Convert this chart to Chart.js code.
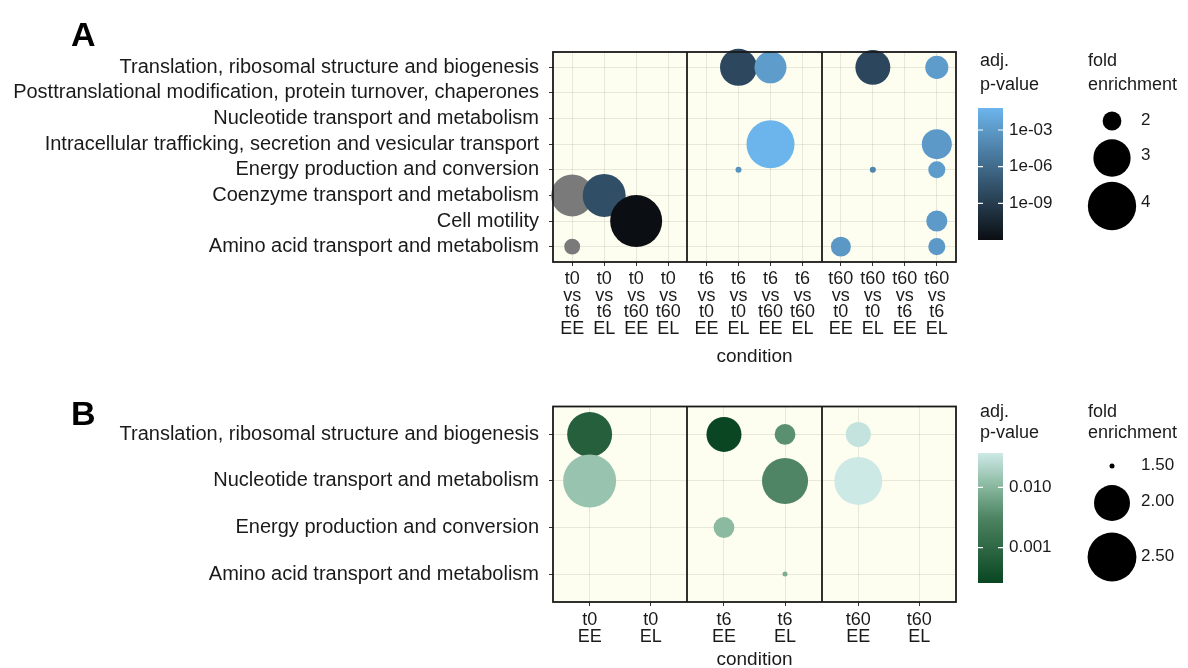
<!DOCTYPE html>
<html>
<head>
<meta charset="utf-8">
<script src="https://cdn.jsdelivr.net/npm/chart.js@4.4.1/dist/chart.umd.min.js"></script>
<style>
  body { margin: 0; background: #fff; }
  #wrap { position: relative; width: 1188px; height: 668px; }
  canvas { position: absolute; left: 0; }
  #chartA { top: 0; }
  #chartB { top: 380px; }
</style>
</head>
<body>
<div id="wrap">
  <canvas id="chartA" width="1188" height="380"></canvas>
  <canvas id="chartB" width="1188" height="288"></canvas>
</div>
<script>
// ---- Panel A : COG categories x comparisons ----
const rowsA = [
  'Translation, ribosomal structure and biogenesis',
  'Posttranslational modification, protein turnover, chaperones',
  'Nucleotide transport and metabolism',
  'Intracellular trafficking, secretion and vesicular transport',
  'Energy production and conversion',
  'Coenzyme transport and metabolism',
  'Cell motility',
  'Amino acid transport and metabolism'
];
const condA = [
  't0 vs t6 EE', 't0 vs t6 EL', 't0 vs t60 EE', 't0 vs t60 EL',
  't6 vs t0 EE', 't6 vs t0 EL', 't6 vs t60 EE', 't6 vs t60 EL',
  't60 vs t0 EE', 't60 vs t0 EL', 't60 vs t6 EE', 't60 vs t6 EL'
];
const rowIdxA = [5, 5, 6, 7, 0, 0, 3, 4, 0, 0, 3, 4, 4, 6, 7, 7];
const colIdxA = [0, 1, 2, 0, 5, 6, 6, 5, 9, 11, 11, 9, 11, 11, 8, 11];
const foldA   = [3.39, 3.48, 4.4, 1.92, 2.98, 2.63, 3.97, 1.8, 2.83, 2.16, 2.51, 1.8, 1.95, 2.08, 2.04, 1.95];
const pvalA   = [null, 1.3e-8, 1e-12, null, 6e-9, 1.6e-3, 0.063, 4e-4, 5e-9, 1.6e-3, 1e-3, 4e-5, 1.6e-3, 1.2e-3, 8e-4, 1e-3];
const sizeBreaksA = [2, 3, 4];
const sizeLabelsA = ['2', '3', '4'];
const pBreaksA = [1e-3, 1e-6, 1e-9];
const pLabelsA = ['1e-03', '1e-06', '1e-09'];

// ---- Panel B ----
const rowsB = [
  'Translation, ribosomal structure and biogenesis',
  'Nucleotide transport and metabolism',
  'Energy production and conversion',
  'Amino acid transport and metabolism'
];
const condB = ['t0 EE', 't0 EL', 't6 EE', 't6 EL', 't60 EE', 't60 EL'];
const rowIdxB = [0, 1, 0, 0, 1, 2, 3, 0, 1];
const colIdxB = [0, 0, 2, 3, 3, 2, 3, 4, 4];
const foldB   = [2.33, 2.7, 1.97, 1.63, 2.38, 1.63, 1.5, 1.71, 2.46];
const pvalB   = [7e-4, 0.014, 2.6e-4, 0.004, 0.0032, 0.011, 0.008, 0.032, 0.037];
const sizeBreaksB = [1.5, 2.0, 2.5];
const sizeLabelsB = ['1.50', '2.00', '2.50'];
const pBreaksB = [0.01, 0.001];
const pLabelsB = ['0.010', '0.001'];

const FONT = '"Liberation Sans", Arial, sans-serif';
const NA_COLOR = '#7a7a7a';

function hexToRgb(h) {
  return [parseInt(h.slice(1, 3), 16), parseInt(h.slice(3, 5), 16), parseInt(h.slice(5, 7), 16)];
}

// colour from p-value (log scale) through a list of stops
function pColor(p, cfg) {
  if (p == null) return NA_COLOR;
  let t = (Math.log10(p) - Math.log10(cfg.pmin)) / (Math.log10(cfg.pmax) - Math.log10(cfg.pmin));
  t = Math.max(0, Math.min(1, t));
  const st = cfg.stops;
  let i = 0;
  while (i < st.length - 2 && t > st[i + 1][0]) i++;
  const a = st[i], b = st[i + 1];
  const f = (t - a[0]) / (b[0] - a[0]);
  const ca = hexToRgb(a[1]), cb = hexToRgb(b[1]);
  const c = ca.map((v, k) => Math.round(v + (cb[k] - v) * f));
  return `rgb(${c[0]},${c[1]},${c[2]})`;
}

// radius from fold enrichment (area style like ggplot scale_size)
function sizeR(v, cfg) {
  const t = Math.max(0, (v - cfg.vmin) / (cfg.vmax - cfg.vmin));
  return cfg.rmin + (cfg.rmax - cfg.rmin) * Math.sqrt(t);
}

const cfgA = {
  canvas: 'chartA', height: 380, letter: 'A', letterY: 37,
  rows: rowsA, cond: condA, rowIdx: rowIdxA, colIdx: colIdxA, fold: foldA, pval: pvalA,
  perFacet: 4, nFacet: 3,
  top: 52, bottom: 262, titleY: 357, tickLine: 16.5, tickPad: 5,
  vmin: 1.8, vmax: 4.4, rmin: 3, rmax: 26,
  pmin: 1e-12, pmax: 0.063,
  stops: [[0, '#0b0e12'], [1, '#6cb5ec']],
  sizeBreaks: sizeBreaksA, sizeLabels: sizeLabelsA, pBreaks: pBreaksA, pLabels: pLabelsA,
  leg: { t1: 61, t2: 85, barTop: 108, barBot: 240, circY: [121, 158, 206], labY: [120, 155, 202] }
};
const cfgB = {
  canvas: 'chartB', height: 288, letter: 'B', letterY: 416 - 380,
  rows: rowsB, cond: condB, rowIdx: rowIdxB, colIdx: colIdxB, fold: foldB, pval: pvalB,
  perFacet: 2, nFacet: 3,
  top: 392 - 380, bottom: 602 - 380, titleY: 660 - 380, tickLine: 17, tickPad: 6,
  vmin: 1.5, vmax: 2.7, rmin: 2.5, rmax: 26.5,
  pmin: 2.6e-4, pmax: 0.037,
  stops: [[0, '#0a4622'], [0.5, '#4d8462'], [0.75, '#8ab9a0'], [1, '#cde9e6']],
  sizeBreaks: sizeBreaksB, sizeLabels: sizeLabelsB, pBreaks: pBreaksB, pLabels: pLabelsB,
  leg: { t1: 412 - 380, t2: 433 - 380, barTop: 453 - 380, barBot: 583 - 380, circY: [466 - 380, 503 - 380, 557 - 380], labY: [465 - 380, 501 - 380, 556 - 380] }
};

function colX(c, cfg) {
  const f = Math.floor(c / cfg.perFacet), j = c % cfg.perFacet;
  return f * (cfg.perFacet - 1 + 1.2) + j;
}

const panelPlugin = {
  id: 'panel',
  beforeDraw(chart) {
    const { ctx, chartArea: a } = chart;
    ctx.save();
    ctx.fillStyle = '#fefef0';
    ctx.fillRect(a.left, a.top, a.right - a.left, a.bottom - a.top);
    ctx.restore();
  },
  afterDraw(chart) {
    const cfg = chart.options.plugins.panel.cfg;
    const { ctx, chartArea: a, scales } = chart;
    ctx.save();
    // facet separators and border
    ctx.strokeStyle = '#1a1a1a';
    ctx.lineWidth = 1.8;
    const w = cfg.perFacet - 1 + 1.2;
    for (let f = 1; f < cfg.nFacet; f++) {
      const x = Math.round(scales.x.getPixelForValue(f * w - 0.6));
      ctx.beginPath(); ctx.moveTo(x, a.top); ctx.lineTo(x, a.bottom); ctx.stroke();
    }
    ctx.strokeRect(a.left, a.top, a.right - a.left, a.bottom - a.top);

    // panel letter
    ctx.fillStyle = '#000';
    ctx.font = 'bold 34px ' + FONT;
    ctx.textBaseline = 'middle';
    ctx.textAlign = 'left';
    ctx.fillText(cfg.letter, 71, cfg.letterY);

    // axis title
    ctx.fillStyle = '#1a1a1a';
    ctx.font = '19px ' + FONT;
    ctx.textAlign = 'center';
    ctx.fillText('condition', (a.left + a.right) / 2, cfg.titleY);

    // colour bar legend
    const L = cfg.leg;
    ctx.textAlign = 'left';
    ctx.font = '18px ' + FONT;
    ctx.fillText('adj.', 980, L.t1);
    ctx.fillText('p-value', 980, L.t2);
    ctx.fillText('fold', 1088, L.t1);
    ctx.fillText('enrichment', 1088, L.t2);
    const bx = 978, bw = 25;
    const lmin = Math.log10(cfg.pmin), lmax = Math.log10(cfg.pmax);
    for (let y = L.barTop; y < L.barBot; y++) {
      const t = 1 - (y + 0.5 - L.barTop) / (L.barBot - L.barTop);
      ctx.fillStyle = pColor(Math.pow(10, lmin + t * (lmax - lmin)), cfg);
      ctx.fillRect(bx, y, bw, 1);
    }
    ctx.font = '17px ' + FONT;
    cfg.pBreaks.forEach((p, i) => {
      const t = (Math.log10(p) - lmin) / (lmax - lmin);
      const y = L.barBot - t * (L.barBot - L.barTop);
      ctx.strokeStyle = '#fff';
      ctx.lineWidth = 1.2;
      ctx.beginPath();
      ctx.moveTo(bx, y); ctx.lineTo(bx + 5, y);
      ctx.moveTo(bx + bw - 5, y); ctx.lineTo(bx + bw, y);
      ctx.stroke();
      ctx.fillStyle = '#1a1a1a';
      ctx.fillText(cfg.pLabels[i], bx + bw + 6, y);
    });

    // size legend
    cfg.sizeBreaks.forEach((v, i) => {
      ctx.fillStyle = '#000';
      ctx.beginPath();
      ctx.arc(1112, L.circY[i], sizeR(v, cfg), 0, Math.PI * 2);
      ctx.fill();
      ctx.fillStyle = '#1a1a1a';
      ctx.fillText(cfg.sizeLabels[i], 1141, L.labY[i]);
    });
    ctx.restore();
  }
};

function makeChart(cfg) {
  const points = cfg.rowIdx.map((r, i) => ({ x: colX(cfg.colIdx[i], cfg), y: r, r: sizeR(cfg.fold[i], cfg) }));
  const colours = cfg.pval.map(p => pColor(p, cfg));
  const tickPos = cfg.cond.map((c, i) => colX(i, cfg));
  const xmax = cfg.nFacet * (cfg.perFacet - 1 + 1.2) - 0.6;
  return new Chart(document.getElementById(cfg.canvas), {
    type: 'bubble',
    data: {
      datasets: [{
        data: points,
        backgroundColor: colours,
        borderWidth: 0,
        hoverRadius: 0,
        clip: false
      }]
    },
    options: {
      responsive: false,
      animation: false,
      events: [],
      layout: { padding: { left: 0, right: 1188 - 956, top: cfg.top, bottom: 0 } },
      plugins: { legend: { display: false }, tooltip: { enabled: false }, panel: { cfg: cfg } },
      scales: {
        x: {
          type: 'linear',
          min: -0.6, max: xmax,
          afterBuildTicks: s => { s.ticks = tickPos.map(v => ({ value: v })); },
          afterFit: s => { s.height = cfg.height - cfg.bottom; },
          grid: { color: 'rgba(0,0,0,0.09)', tickColor: '#333', tickLength: 4, lineWidth: 1 },
          border: { display: false },
          ticks: {
            autoSkip: false, maxRotation: 0, minRotation: 0, padding: cfg.tickPad,
            color: '#1a1a1a',
            font: { family: FONT, size: 18, lineHeight: cfg.tickLine / 18 },
            callback: (v, i) => cfg.cond[i].split(' ')
          }
        },
        y: {
          type: 'linear',
          reverse: true,
          min: -0.6, max: cfg.rows.length - 0.4,
          afterBuildTicks: s => { s.ticks = cfg.rows.map((r, i) => ({ value: i })); },
          afterFit: s => { s.width = 553; },
          grid: { color: 'rgba(0,0,0,0.09)', tickColor: '#333', tickLength: 4, lineWidth: 1 },
          border: { display: false },
          ticks: {
            autoSkip: false, padding: 10,
            color: '#1a1a1a',
            font: { family: FONT, size: 20 },
            callback: (v, i) => cfg.rows[i]
          }
        }
      }
    },
    plugins: [panelPlugin]
  });
}

makeChart(cfgA);
makeChart(cfgB);
</script>
</body>
</html>
